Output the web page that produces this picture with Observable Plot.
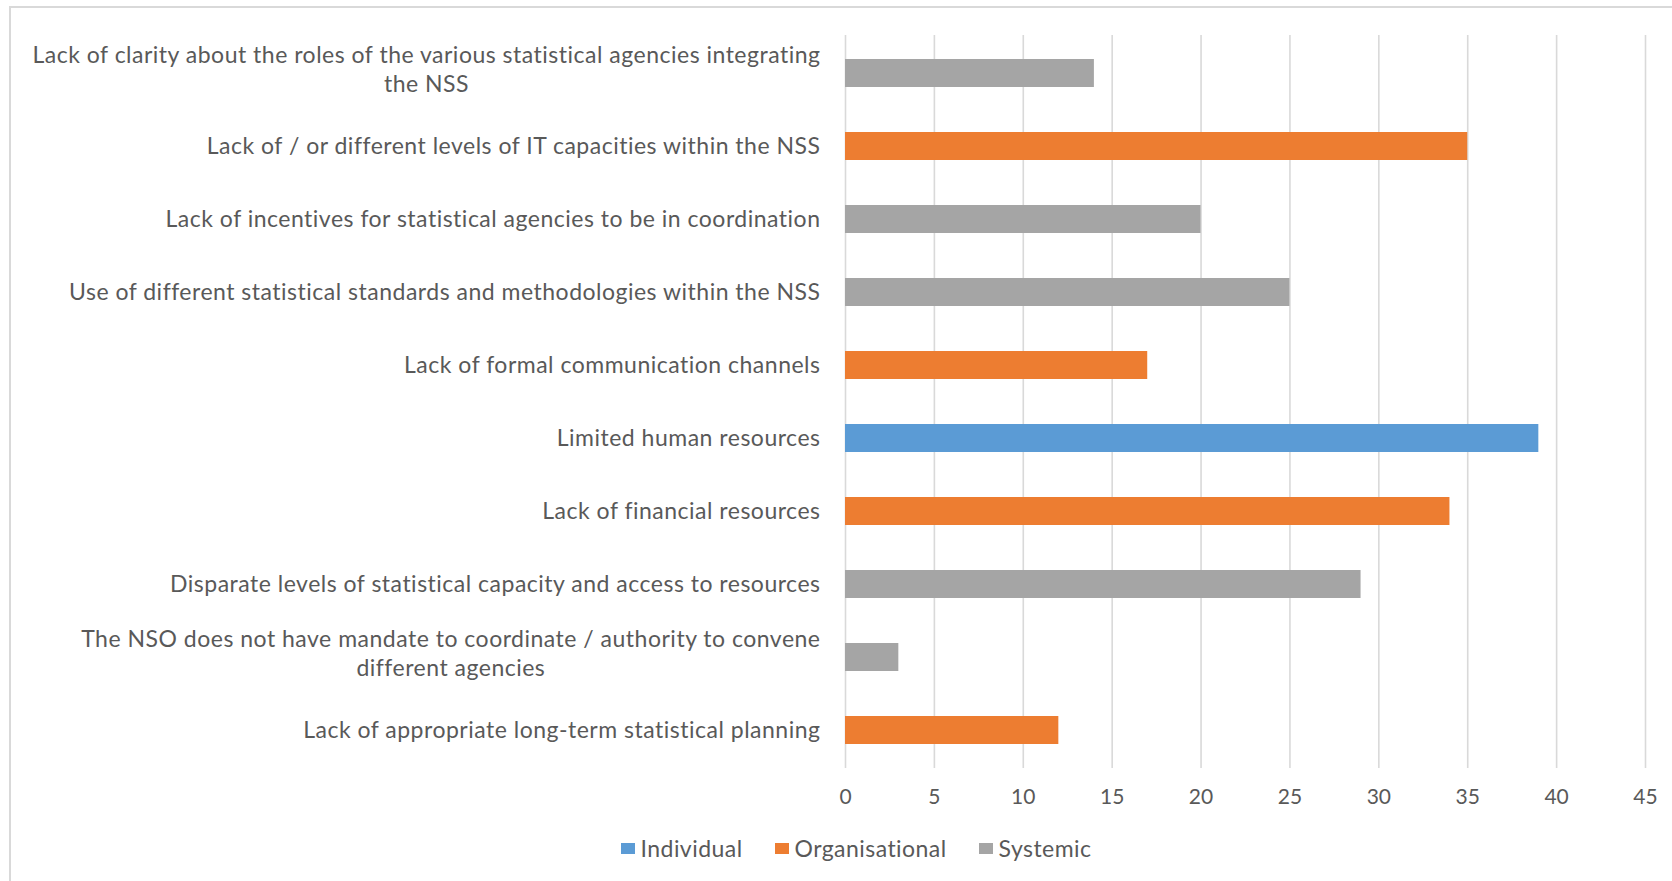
<!DOCTYPE html>
<html>
<head>
<meta charset="utf-8">
<script src="https://cdn.jsdelivr.net/npm/d3@7"></script>
<script src="https://cdn.jsdelivr.net/npm/@observablehq/plot@0.6"></script>
<style>
  html, body { margin: 0; padding: 0; background: #fff; }
  body { width: 1672px; height: 881px; position: relative; overflow: hidden; font-family: Lato, "Open Sans", sans-serif; }
  #frame { position: absolute; left: 9px; top: 6px; width: 1700px; height: 900px; border-top: 2px solid #d9d9d9; border-left: 2px solid #d9d9d9; box-sizing: border-box; }
  #chart { position: absolute; left: 0; top: 0; }
  #chart svg g[aria-label="y-axis tick label"] text { letter-spacing: 0.5px; }
  #legend { position: absolute; top: 834px; left: 0; width: 1712px; display: flex; justify-content: center; gap: 32px; font-size: 23px; letter-spacing: 0.45px; color: #595959; }
  #legend .item { display: flex; align-items: center; gap: 6px; }
  #legend .sw { width: 14px; height: 11px; display: inline-block; }
</style>
</head>
<body>
<div id="frame"></div>
<div id="chart"></div>
<div id="legend"></div>
<script>
const categories = [
  "Lack of clarity about the roles of the various statistical agencies integrating\nthe NSS",
  "Lack of / or different levels of IT capacities within the NSS",
  "Lack of incentives for statistical agencies to be in coordination",
  "Use of different statistical standards and methodologies within the NSS",
  "Lack of formal communication channels",
  "Limited human resources",
  "Lack of financial resources",
  "Disparate levels of statistical capacity and access to resources",
  "The NSO does not have mandate to coordinate / authority to convene\ndifferent agencies",
  "Lack of appropriate long-term statistical planning"
];
const values = [14, 35, 20, 25, 17, 39, 34, 29, 3, 12];
const types = ["Systemic", "Organisational", "Systemic", "Systemic", "Organisational", "Individual", "Organisational", "Systemic", "Systemic", "Organisational"];
const seriesNames = ["Individual", "Organisational", "Systemic"];
const seriesColors = ["#5b9bd5", "#ed7d31", "#a5a5a5"];
const xTicks = [0, 5, 10, 15, 20, 25, 30, 35, 40, 45];

const data = categories.map((c, i) => ({category: c, value: values[i], type: types[i]}));

const chart = Plot.plot({
  width: 1672,
  height: 820,
  marginLeft: 845,
  marginRight: 27,
  marginTop: 35,
  marginBottom: 52,
  style: {fontFamily: "Lato, 'Open Sans', sans-serif", fontSize: "21px", color: "#595959", background: "transparent"},
  x: {domain: [0, 45], ticks: xTicks},
  y: {domain: categories, paddingInner: 0.62, paddingOuter: 0.31},
  color: {domain: seriesNames, range: seriesColors},
  marks: [
    Plot.gridX(xTicks, {stroke: "#d9d9d9", strokeOpacity: 1, strokeWidth: 1.6}),
    Plot.barX(data, {y: "category", x: "value", fill: "type"}),
    Plot.axisX({ticks: xTicks, tickSize: 0, tickPadding: 21, label: null, fontSize: 21, fill: "#595959"}),
    Plot.axisY({tickSize: 0, tickPadding: 25, dy: -2, label: null, fontSize: 23, fill: "#595959", lineHeight: 1.24})
  ]
});
document.getElementById("chart").appendChild(chart);

// center the wrapped lines of multi-line category labels (as in the original)
chart.querySelectorAll('g[aria-label="y-axis tick label"] text').forEach(t => {
  const spans = t.querySelectorAll("tspan");
  if (spans.length > 1) {
    let w = 0;
    spans.forEach(s => { w = Math.max(w, s.getComputedTextLength()); });
    t.setAttribute("text-anchor", "middle");
    spans.forEach(s => s.setAttribute("x", -w / 2));
    const tr = t.getAttribute("transform") || "";
    t.setAttribute("transform", tr + " translate(0,-3)");
  }
});

const legend = document.getElementById("legend");
seriesNames.forEach((n, i) => {
  const item = document.createElement("div");
  item.className = "item";
  const sw = document.createElement("span");
  sw.className = "sw";
  sw.style.background = seriesColors[i];
  const lab = document.createElement("span");
  lab.textContent = n;
  item.appendChild(sw);
  item.appendChild(lab);
  legend.appendChild(item);
});
</script>
</body>
</html>
